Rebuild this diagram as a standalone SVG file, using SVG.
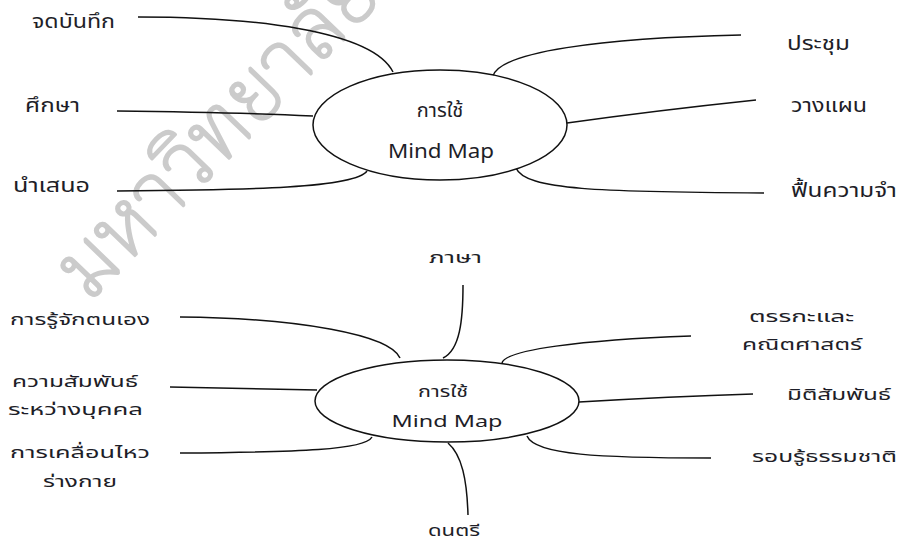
<svg xmlns="http://www.w3.org/2000/svg" width="899" height="542" viewBox="0 0 899 542">
  <style>
    .bg { fill: #ffffff; }
    .mark { font-family: "Noto Serif Thai", "Noto Sans Thai", sans-serif; font-size: 86px; font-weight: 100; fill: #cbcbcb; stroke: #cbcbcb; stroke-width: 3; stroke-linejoin: round; }
    .hub { fill: #ffffff; stroke: #111111; stroke-width: 1.5; }
    .link { fill: none; stroke: #111111; stroke-width: 1.5; }
    .lbl { font-family: "Noto Sans Thai", "Noto Sans", sans-serif; font-size: 19px; fill: #1e1e28; }
    .lbl2 { font-family: "Noto Sans Thai", "Noto Sans", sans-serif; font-size: 16px; fill: #1e1e28; }
    .hubtxt { font-family: "Noto Sans Thai", "Noto Sans", sans-serif; font-size: 20px; fill: #1e1e28; text-anchor: middle; }
    .hubtxt2 { font-family: "Noto Sans Thai", "Noto Sans", sans-serif; font-size: 16px; fill: #1e1e28; text-anchor: middle; }
  </style>
  <rect class="bg" x="0" y="0" width="899" height="542"/>

  <!-- background stamp -->
  <text class="mark" transform="translate(90,302) rotate(-46)">มหาวิทยาลัย</text>

  <!-- connectors -->
  <g id="connectors">
    <path class="link" d="M138,17 C250,17 372,30 393,72"/>
    <path class="link" d="M117,111 C200,112 270,114 313,116"/>
    <path class="link" d="M117,191 C250,190 355,188 367,171"/>
    <path class="link" d="M741,35 C600,38 500,52 493,76"/>
    <path class="link" d="M756,100 C680,108 610,117 567,123"/>
    <path class="link" d="M516,168 C525,190 600,192 764,193"/>

    <path class="link" d="M463,285 C463,320 460,350 443,358"/>
    <path class="link" d="M448,443 C462,455 467,480 468,515"/>
    <path class="link" d="M180,317 C300,318 390,335 400,358"/>
    <path class="link" d="M170,387 C230,388 280,389 317,390"/>
    <path class="link" d="M180,453 C300,452 365,450 372,437"/>
    <path class="link" d="M691,336 C580,340 505,350 502,363"/>
    <path class="link" d="M753,394 C690,396 630,399 579,402"/>
    <path class="link" d="M527,436 C535,455 600,458 711,458"/>
  </g>

  <!-- upper map -->
  <g id="hub-top">
    <ellipse class="hub" cx="440" cy="125" rx="127" ry="55"/>
    <text class="hubtxt" x="440" y="117">การใช้</text>
    <text class="hubtxt" x="441" y="158" textLength="106" lengthAdjust="spacingAndGlyphs">Mind Map</text>
  </g>
  <g id="node-note"><text class="lbl" x="32" y="28" textLength="83" lengthAdjust="spacingAndGlyphs">จดบันทึก</text></g>
  <g id="node-study"><text class="lbl" x="25" y="112" textLength="55" lengthAdjust="spacingAndGlyphs">ศึกษา</text></g>
  <g id="node-present"><text class="lbl" x="13" y="192" textLength="77" lengthAdjust="spacingAndGlyphs">นำเสนอ</text></g>
  <g id="node-meeting"><text class="lbl" x="787" y="50" textLength="63" lengthAdjust="spacingAndGlyphs">ประชุม</text></g>
  <g id="node-plan"><text class="lbl" x="791" y="112" textLength="76" lengthAdjust="spacingAndGlyphs">วางแผน</text></g>
  <g id="node-recall"><text class="lbl" x="791" y="197" textLength="106" lengthAdjust="spacingAndGlyphs">ฟื้นความจำ</text></g>

  <!-- lower map -->
  <g id="hub-bottom">
    <ellipse class="hub" cx="447" cy="401" rx="132" ry="41"/>
    <text class="hubtxt2" x="443" y="397" textLength="50" lengthAdjust="spacingAndGlyphs">การใช้</text>
    <text class="hubtxt2" x="447" y="427" textLength="111" lengthAdjust="spacingAndGlyphs">Mind Map</text>
  </g>
  <g id="node-language"><text class="lbl2" x="429" y="263" textLength="53" lengthAdjust="spacingAndGlyphs">ภาษา</text></g>
  <g id="node-music"><text class="lbl2" x="428" y="536" textLength="52" lengthAdjust="spacingAndGlyphs">ดนตรี</text></g>
  <g id="node-self"><text class="lbl2" x="10" y="325" textLength="140" lengthAdjust="spacingAndGlyphs">การรู้จักตนเอง</text></g>
  <g id="node-interpersonal">
    <text class="lbl2" x="12" y="387" textLength="126" lengthAdjust="spacingAndGlyphs">ความสัมพันธ์</text>
    <text class="lbl2" x="8" y="415" textLength="135" lengthAdjust="spacingAndGlyphs">ระหว่างบุคคล</text>
  </g>
  <g id="node-movement">
    <text class="lbl2" x="10" y="458" textLength="140" lengthAdjust="spacingAndGlyphs">การเคลื่อนไหว</text>
    <text class="lbl2" x="43" y="487" textLength="74" lengthAdjust="spacingAndGlyphs">ร่างกาย</text>
  </g>
  <g id="node-logic">
    <text class="lbl2" x="749" y="322" textLength="105" lengthAdjust="spacingAndGlyphs">ตรรกะและ</text>
    <text class="lbl2" x="742" y="350" textLength="120" lengthAdjust="spacingAndGlyphs">คณิตศาสตร์</text>
  </g>
  <g id="node-spatial"><text class="lbl2" x="787" y="400" textLength="104" lengthAdjust="spacingAndGlyphs">มิติสัมพันธ์</text></g>
  <g id="node-nature"><text class="lbl2" x="752" y="462" textLength="145" lengthAdjust="spacingAndGlyphs">รอบรู้ธรรมชาติ</text></g>
</svg>
